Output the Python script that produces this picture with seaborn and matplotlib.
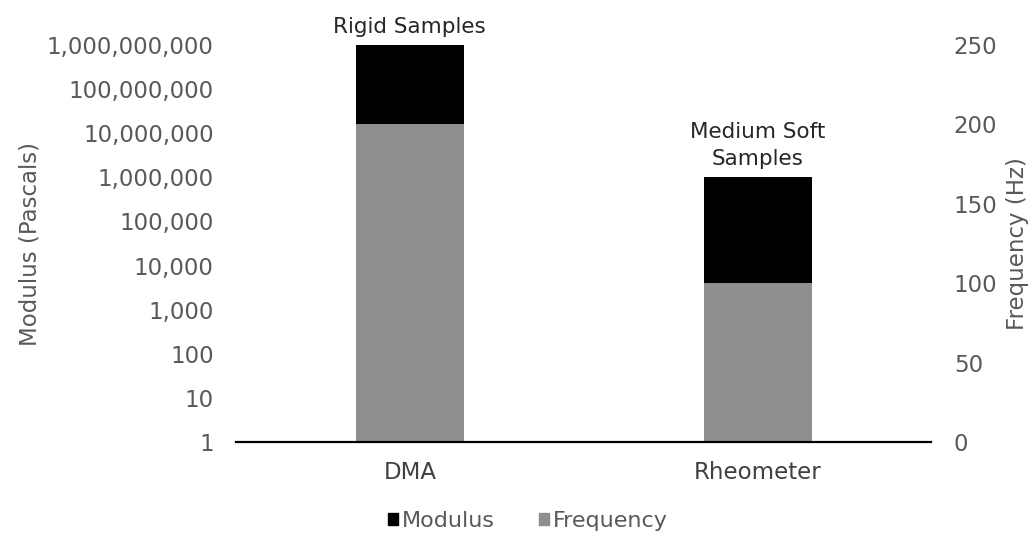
import matplotlib
matplotlib.use('Agg')
import matplotlib.pyplot as plt
import matplotlib.ticker as mticker
from matplotlib.patches import Patch
import seaborn as sns
import pandas as pd

sns.set_theme(style='white')
plt.rcParams['font.family'] = ['DejaVu Sans']

# values
instruments = ['DMA', 'Rheometer']
modulus_pa = [1e9, 1e6]
frequency_hz = [200, 100]
sample_notes = ['Rigid Samples', 'Medium Soft\nSamples']
modulus_ticks = [10 ** k for k in range(10)]
freq_ticks = [0, 50, 100, 150, 200, 250]

df = pd.DataFrame({'instrument': instruments, 'modulus': modulus_pa, 'frequency': frequency_hz})

grey_txt = '#595959'
fs = 16.5

fig = plt.figure(figsize=(10.35, 5.37), dpi=100)
ax = fig.add_axes([0.228, 0.177, 0.672, 0.739])

sns.barplot(data=df, x='instrument', y='modulus', color='black', width=0.31,
            saturation=1, linewidth=0, ax=ax)
ax.set_yscale('log')
ax.set_ylim(1, 1e9)
ax.set_yticks(modulus_ticks)
ax.yaxis.set_major_formatter(mticker.FuncFormatter(lambda v, p: f'{int(round(v)):,}'))
ax.yaxis.set_minor_locator(mticker.NullLocator())
ax.set_xlim(-0.5, 1.5)

ax2 = ax.twinx()
sns.barplot(data=df, x='instrument', y='frequency', color='#8e8e8e', width=0.31,
            saturation=1, linewidth=0, ax=ax2)
ax2.set_ylim(0, 250)
ax2.set_yticks(freq_ticks)
ax2.set_xlim(-0.5, 1.5)

for a in (ax, ax2):
    for s in a.spines.values():
        s.set_visible(False)
    a.tick_params(length=0, labelsize=fs, labelcolor=grey_txt)
    a.set_xlabel('')
    a.grid(False)
ax2.spines['bottom'].set_visible(True)
ax2.spines['bottom'].set_color('black')
ax2.spines['bottom'].set_linewidth(1.6)

ax.tick_params(axis='y', pad=16)
ax2.tick_params(axis='y', pad=16)
ax.tick_params(axis='x', pad=14, labelcolor='#404040')

ax.set_ylabel('Modulus (Pascals)', fontsize=fs, color=grey_txt, labelpad=4)
ax2.set_ylabel('Frequency (Hz)', fontsize=fs, color=grey_txt, labelpad=6)

for i, note in enumerate(sample_notes):
    ax.annotate(note, xy=(i, modulus_pa[i]), xytext=(0, 6), textcoords='offset points',
                ha='center', va='bottom', fontsize=fs - 1, color='#262626',
                linespacing=1.45, annotation_clip=False)

handles = [Patch(color='black', label='Modulus'), Patch(color='#8e8e8e', label='Frequency')]
fig.legend(handles=handles, loc='center', bbox_to_anchor=(0.51, 0.03), ncol=2,
           frameon=False, fontsize=fs - 0.5, handlelength=0.45, handleheight=0.45,
           handletextpad=0.15, columnspacing=2.0, labelcolor=grey_txt)

fig.savefig('out.png', dpi=100)
